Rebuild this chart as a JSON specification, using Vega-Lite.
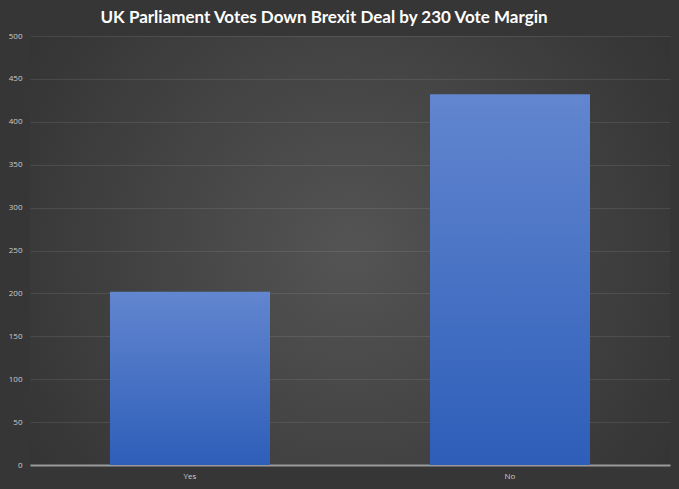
{
  "$schema": "https://vega.github.io/schema/vega-lite/v6.json",
  "width": 640,
  "height": 429,
  "autosize": {"type": "none"},
  "padding": {"left": 30, "top": 36, "right": 9, "bottom": 24},
  "background": "#363636",
  "title": {
    "text": "UK Parliament Votes Down Brexit Deal by 230 Vote Margin",
    "color": "#ffffff",
    "font": "Lato",
    "fontSize": 17,
    "fontWeight": "bold",
    "anchor": "middle",
    "dx": -26,
    "offset": 5
  },
  "data": {
    "values": [
      {"vote": "Yes", "count": 202},
      {"vote": "No", "count": 432}
    ]
  },
  "mark": {
    "type": "bar",
    "color": {
      "gradient": "linear",
      "x1": 0, "y1": 0, "x2": 0, "y2": 1,
      "stops": [
        {"offset": 0, "color": "#6286cf"},
        {"offset": 1, "color": "#2e5eb9"}
      ]
    }
  },
  "encoding": {
    "x": {
      "field": "vote",
      "type": "nominal",
      "sort": ["Yes", "No"],
      "scale": {"paddingInner": 0.5, "paddingOuter": 0.25},
      "axis": {
        "title": null,
        "labelAngle": 0,
        "labelColor": "#cccccc",
        "labelFont": "Open Sans",
        "labelFontSize": 8,
        "ticks": false,
        "domainColor": "#9a9a9a",
        "domainWidth": 2,
        "labelPadding": 7
      }
    },
    "y": {
      "field": "count",
      "type": "quantitative",
      "scale": {"domain": [0, 500]},
      "axis": {
        "title": null,
        "values": [0, 50, 100, 150, 200, 250, 300, 350, 400, 450, 500],
        "labelColor": "#cccccc",
        "labelFont": "Open Sans",
        "labelFontSize": 8,
        "ticks": false,
        "domain": false,
        "gridColor": "#ffffff",
        "gridOpacity": 0.09,
        "gridWidth": 1,
        "labelPadding": 8
      }
    }
  },
  "config": {
    "view": {
      "stroke": null,
      "fill": {
        "gradient": "radial",
        "x1": 0.5, "y1": 0.5, "r1": 0,
        "x2": 0.5, "y2": 0.5, "r2": 0.75,
        "stops": [
          {"offset": 0, "color": "#545454"},
          {"offset": 1, "color": "#2c2c2c"}
        ]
      }
    }
  }
}
